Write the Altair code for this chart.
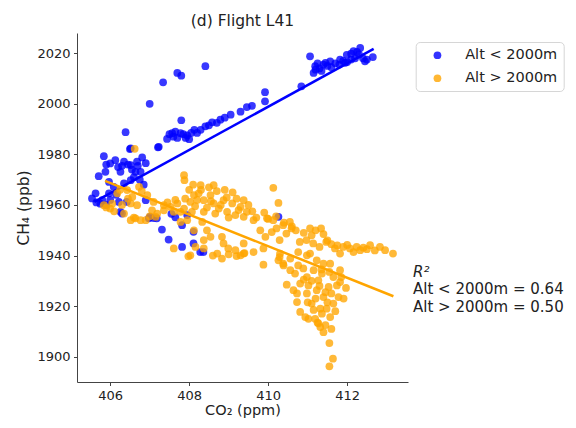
import altair as alt
import pandas as pd

# ---------------- data ----------------
series_names = ["Alt < 2000m", "Alt > 2000m"]
series_colors = ["#0000ff", "#ffa500"]
chart_title = "(d) Flight L41"
x_title = "CO₂ (ppm)"
y_title = "CH₄ (ppb)"
x_ticks = [406, 408, 410, 412]
y_ticks = [1900, 1920, 1940, 1960, 1980, 2000, 2020]
r2_header = "R²"
r2_lines = ["Alt < 2000m = 0.64", "Alt > 2000m = 0.50"]

# Alt < 2000m : (CO2 ppm, CH4 ppb)
blue_points = [
    (406.39, 1988.8), (407.0, 2000.0), (407.34, 2008.5), (407.70, 2012.2), (407.80, 2011.1),
    (408.41, 2014.9), (407.21, 1982.8), (407.8, 1993.5), (406.5, 1982.1), (407.44, 1986.1),
    (407.57, 1988.4), (407.78, 1988.4), (407.91, 1986.5), (408.13, 1989.7), (408.29, 1989.7),
    (408.41, 1991.1), (408.58, 1992.7), (408.79, 1993.7), (409.05, 1995.7), (409.3, 1996.9),
    (407.6, 1987.0), (407.7, 1986.5), (407.95, 1987.5), (408.0, 1986.0), (408.2, 1988.5),
    (407.5, 1988.0), (408.5, 1991.5), (408.7, 1992.5), (408.9, 1994.5), (407.65, 1989.0),
    (407.85, 1988.0), (408.05, 1988.5),
    (409.46, 1998.7), (409.59, 1999.2), (409.92, 2004.6), (409.92, 2001.0), (410.84, 2006.9),
    (411.06, 2018.8), (411.15, 2012.2), (411.19, 2014.9), (411.4, 2015.5), (411.57, 2016.8),
    (411.82, 2017.5), (411.99, 2019.4), (412.16, 2020.8), (412.33, 2022.1), (412.65, 2018.5),
    (412.45, 2016.8), (411.95, 2016.2), (411.3, 2014.0), (411.25, 2016.0), (411.5, 2015.0),
    (411.6, 2014.5), (411.7, 2016.0), (411.8, 2015.5), (411.9, 2017.0), (412.0, 2016.5),
    (412.1, 2017.5), (412.2, 2018.0), (412.3, 2019.5), (412.4, 2018.0), (412.5, 2017.5),
    (412.25, 2020.5), (412.1, 2019.8), (411.35, 2013.0), (411.45, 2016.2), (411.2, 2013.5),
    (405.84, 1979.3), (406.0, 1976.4), (406.13, 1977.7), (406.35, 1977.1), (406.52, 1975.8),
    (406.68, 1977.1), (406.81, 1978.8), (406.64, 1973.1), (406.77, 1973.1), (406.26, 1973.1),
    (405.88, 1973.1), (405.71, 1971.4), (405.97, 1969.1), (406.09, 1967.2), (406.35, 1968.5),
    (405.63, 1964.6), (405.54, 1962.6), (405.80, 1961.9), (405.97, 1964.6), (406.52, 1969.8),
    (407.23, 1983.0), (406.52, 1982.4), (406.9, 1961.9), (406.22, 1961.2), (406.42, 1961.2),
    (405.65, 1961.0), (405.75, 1960.5), (405.9, 1960.0), (406.0, 1962.0), (406.15, 1964.0),
    (406.3, 1975.5), (406.45, 1976.0), (406.55, 1974.0), (406.7, 1975.5), (406.9, 1976.5),
    (405.9, 1976.0), (406.2, 1975.0), (406.6, 1971.0), (406.75, 1970.0), (406.85, 1968.0),
    (406.26, 1957.3), (406.98, 1954.7), (407.1, 1954.8), (407.65, 1955.1), (407.31, 1950.3),
    (407.48, 1946.3), (407.82, 1943.4), (408.11, 1944.8), (408.28, 1941.4), (408.36, 1941.4),
    (407.01, 1955.3), (407.18, 1954.7), (406.3, 1956.6), (410.26, 1955.3), (408.11, 1949.4),
    (407.82, 1952.0), (407.55, 1956.5), (407.95, 1956.0),
]

# Alt > 2000m : (CO2 ppm, CH4 ppb)
orange_points = [
    (406.62, 1982.2), (405.84, 1959.9), (406.0, 1958.6), (406.18, 1964.6), (406.43, 1965.9),
    (406.56, 1963.2), (406.73, 1967.2), (406.68, 1959.9), (406.94, 1963.9), (407.1, 1961.2),
    (406.52, 1960.6), (406.35, 1956.6), (406.64, 1954.7), (406.77, 1954.0), (406.90, 1954.0),
    (406.52, 1954.0), (405.9, 1959.0), (406.1, 1957.5), (406.6, 1955.0), (407.0, 1955.5),
    (406.3, 1960.0), (406.45, 1962.5), (406.8, 1965.5), (406.25, 1966.0), (406.05, 1960.5),
    (407.87, 1971.8), (407.88, 1969.8), (408.29, 1967.8), (408.62, 1967.8),
    (407.36, 1959.9), (407.53, 1959.2), (407.70, 1960.6), (407.87, 1958.6), (408.03, 1961.2),
    (408.12, 1963.9), (408.24, 1964.6), (408.37, 1961.9), (408.54, 1963.9), (408.62, 1960.6),
    (408.75, 1958.6), (408.87, 1961.9), (409.09, 1960.6), (409.3, 1959.2), (409.38, 1961.9),
    (407.36, 1957.9), (407.61, 1957.3), (407.78, 1957.3), (408.07, 1957.3), (408.37, 1957.3),
    (408.66, 1956.6), (408.96, 1957.3), (409.17, 1956.0), (407.06, 1957.9), (407.19, 1956.6),
    (407.15, 1955.3), (407.78, 1953.3), (407.95, 1954.0), (408.12, 1950.0), (408.33, 1953.3),
    (408.45, 1950.0), (408.54, 1947.4), (408.37, 1946.1), (408.16, 1943.4), (408.37, 1942.8),
    (408.03, 1940.1), (407.61, 1942.8), (408.83, 1947.4), (408.87, 1944.8), (408.99, 1942.8),
    (409.17, 1942.1), (409.3, 1940.1), (408.83, 1938.8), (409.38, 1944.8), (408.71, 1940.8),
    (407.98, 1939.7), (409.0, 1940.5), (409.2, 1939.8), (409.4, 1941.0), (408.6, 1940.0),
    (408.0, 1966.0), (408.1, 1968.0), (408.3, 1966.0), (408.5, 1967.0), (408.7, 1965.5),
    (408.9, 1966.0), (409.1, 1965.0), (408.2, 1962.0), (408.45, 1959.0), (408.8, 1960.0),
    (409.2, 1962.5), (409.5, 1960.0), (409.6, 1957.5), (409.0, 1955.0), (409.7, 1955.0),
    (409.9, 1957.0), (410.0, 1954.5), (410.2, 1955.5), (410.4, 1953.0), (410.6, 1951.5),
    (410.7, 1950.0), (410.9, 1949.0), (411.1, 1948.0), (411.2, 1950.0), (411.4, 1948.5),
    (411.5, 1946.0), (407.45, 1961.0), (407.65, 1962.0), (407.9, 1962.5), (408.15, 1959.5),
    (408.55, 1961.5), (408.95, 1963.0), (409.25, 1958.0),
    (410.13, 1966.8), (410.26, 1960.8), (409.46, 1957.3), (409.63, 1954.0), (409.38, 1955.3),
    (409.80, 1950.0), (409.93, 1947.4), (409.97, 1954.7), (410.13, 1954.0), (410.21, 1950.7),
    (410.38, 1952.0), (410.55, 1953.3), (410.46, 1948.7), (410.29, 1946.1), (410.09, 1949.3),
    (410.59, 1950.7), (411.06, 1950.7), (411.34, 1950.7), (410.8, 1945.4), (410.97, 1946.1),
    (411.14, 1944.8), (411.3, 1943.4), (411.47, 1945.4), (410.76, 1941.4), (411.06, 1940.8),
    (410.29, 1939.4), (410.38, 1936.8), (409.88, 1936.4), (409.38, 1940.8), (409.63, 1941.4),
    (409.88, 1942.8),
    (411.69, 1942.8), (411.9, 1943.4), (412.07, 1942.8), (412.24, 1943.4), (412.41, 1943.1),
    (412.58, 1944.1), (412.83, 1943.4), (412.96, 1942.1), (413.16, 1940.8), (411.82, 1940.8),
    (412.16, 1941.4), (412.33, 1942.1), (411.75, 1944.0), (412.0, 1944.2), (412.5, 1942.5),
    (412.7, 1942.0), (411.6, 1944.5),
    (410.3, 1940.8), (410.56, 1938.8), (410.98, 1940.1), (411.23, 1938.1), (411.57, 1936.8),
    (411.82, 1934.2), (410.47, 1928.5), (410.73, 1921.6), (410.81, 1917.7), (410.94, 1915.7),
    (411.02, 1915.0), (411.32, 1911.7), (411.4, 1909.7), (411.55, 1905.4), (411.64, 1899.2),
    (411.55, 1896.2), (410.73, 1925.0), (410.81, 1928.9), (410.98, 1931.5), (410.98, 1925.0),
    (411.1, 1921.0), (411.23, 1926.3), (411.27, 1930.2), (411.36, 1932.9), (411.4, 1923.6),
    (411.48, 1919.0), (411.57, 1915.7), (411.53, 1927.6), (411.65, 1931.5), (411.74, 1928.2),
    (411.78, 1923.6), (411.91, 1923.0), (411.97, 1927.2), (411.65, 1921.0), (411.36, 1917.0),
    (411.19, 1915.0), (411.32, 1919.0), (411.02, 1928.2), (411.15, 1934.2), (410.89, 1934.9),
    (410.68, 1932.9), (410.76, 1936.1), (411.4, 1936.8), (411.82, 1929.5), (410.56, 1934.2),
    (410.39, 1936.1), (410.26, 1938.1), (410.64, 1926.3), (411.1, 1930.0), (411.3, 1928.0),
    (411.45, 1925.5), (411.6, 1925.0), (411.2, 1923.0), (411.0, 1921.5), (411.5, 1921.5),
    (411.7, 1918.0), (411.25, 1913.5), (411.45, 1912.5), (411.6, 1911.0), (411.15, 1918.5),
    (410.9, 1930.5), (411.35, 1934.5), (411.55, 1933.5), (411.85, 1931.5), (411.27, 1913.2),
]

# regression lines (end points)
blue_fit_co2 = [405.6, 412.67]
blue_fit_ch4 = [1961.2, 2021.7]
orange_fit_co2 = [405.87, 413.17]
orange_fit_ch4 = [1969.5, 1923.9]

# ---------------- frames ----------------
blue_df = pd.DataFrame(blue_points, columns=["co2", "ch4"]).assign(series=series_names[0])
orange_df = pd.DataFrame(orange_points, columns=["co2", "ch4"]).assign(series=series_names[1])
blue_fit_df = pd.DataFrame({"co2": blue_fit_co2, "ch4": blue_fit_ch4})
orange_fit_df = pd.DataFrame({"co2": orange_fit_co2, "ch4": orange_fit_ch4})

FONT = "DejaVu Sans"
TXT = "#222222"
AX = "#444444"

x_enc = alt.X(
    "co2:Q",
    scale=alt.Scale(domain=[405.16, 413.54], nice=False, zero=False),
    axis=alt.Axis(values=x_ticks, title=x_title, grid=False, tickSize=3.5, format="d",
                  labelPadding=4, titlePadding=1, labelFontSize=13, titleFontSize=14.5,
                  labelFont=FONT, titleFont=FONT, titleFontWeight="normal",
                  labelColor=TXT, titleColor=TXT, domainColor=AX, tickColor=AX,
                  labelFlush=False),
)
y_enc = alt.Y(
    "ch4:Q",
    scale=alt.Scale(domain=[1890, 2028], nice=False, zero=False),
    axis=alt.Axis(values=y_ticks, title=y_title, grid=False, tickSize=3.5, format="d",
                  labelPadding=3.5, titlePadding=5, labelFontSize=13, titleFontSize=15.5,
                  labelFont=FONT, titleFont=FONT, titleFontWeight="normal",
                  labelColor=TXT, titleColor=TXT, domainColor=AX, tickColor=AX,
                  labelFlush=False),
)
color_enc = alt.Color(
    "series:N",
    scale=alt.Scale(domain=series_names, range=series_colors),
    legend=alt.Legend(orient="none", legendX=338.7, legendY=9, title=None,
                      strokeColor="#d6d6d6", fillColor="white", cornerRadius=4,
                      padding=6, symbolType="circle", symbolSize=60, symbolOpacity=0.8,
                      symbolStrokeWidth=0, symbolOffset=8.5, labelOffset=20.5, rowPadding=8,
                      labelFontSize=14.5, labelFont=FONT, labelColor=TXT, labelLimit=0),
)

blue_pts = alt.Chart(blue_df).mark_circle(size=60, opacity=0.78).encode(x=x_enc, y=y_enc, color=color_enc)
blue_line = alt.Chart(blue_fit_df).mark_line(color="#0000ff", strokeWidth=2.5).encode(x=x_enc, y=y_enc)
orange_pts = alt.Chart(orange_df).mark_circle(size=60, opacity=0.78).encode(x=x_enc, y=y_enc, color=color_enc)
orange_line = alt.Chart(orange_fit_df).mark_line(color="#ffa500", strokeWidth=2.5).encode(x=x_enc, y=y_enc)

r2_head = alt.Chart(pd.DataFrame({"t": [r2_header]})).mark_text(
    align="left", baseline="alphabetic", font=FONT, fontSize=15, fontStyle="italic", color=TXT
).encode(x=alt.value(336), y=alt.value(244), text="t:N")
r2_text_layers = [
    alt.Chart(pd.DataFrame({"t": [line]})).mark_text(
        align="left", baseline="alphabetic", font=FONT, fontSize=15, color=TXT
    ).encode(x=alt.value(336), y=alt.value(261 + 17.5 * i), text="t:N")
    for i, line in enumerate(r2_lines)
]

chart = (
    alt.layer(blue_pts, blue_line, orange_pts, orange_line, r2_head, *r2_text_layers)
    .properties(
        width=331, height=349,
        title=alt.TitleParams(chart_title, font=FONT, fontSize=15.5, fontWeight="normal",
                              color=TXT, anchor="middle", offset=4),
        autosize=alt.AutoSizeParams(type="none"),
        padding={"left": 69, "top": 25, "right": 160, "bottom": 38},
    )
    .configure_view(strokeWidth=0)
)

chart.save("out.html", embed_options={"renderer": "svg", "actions": False})
